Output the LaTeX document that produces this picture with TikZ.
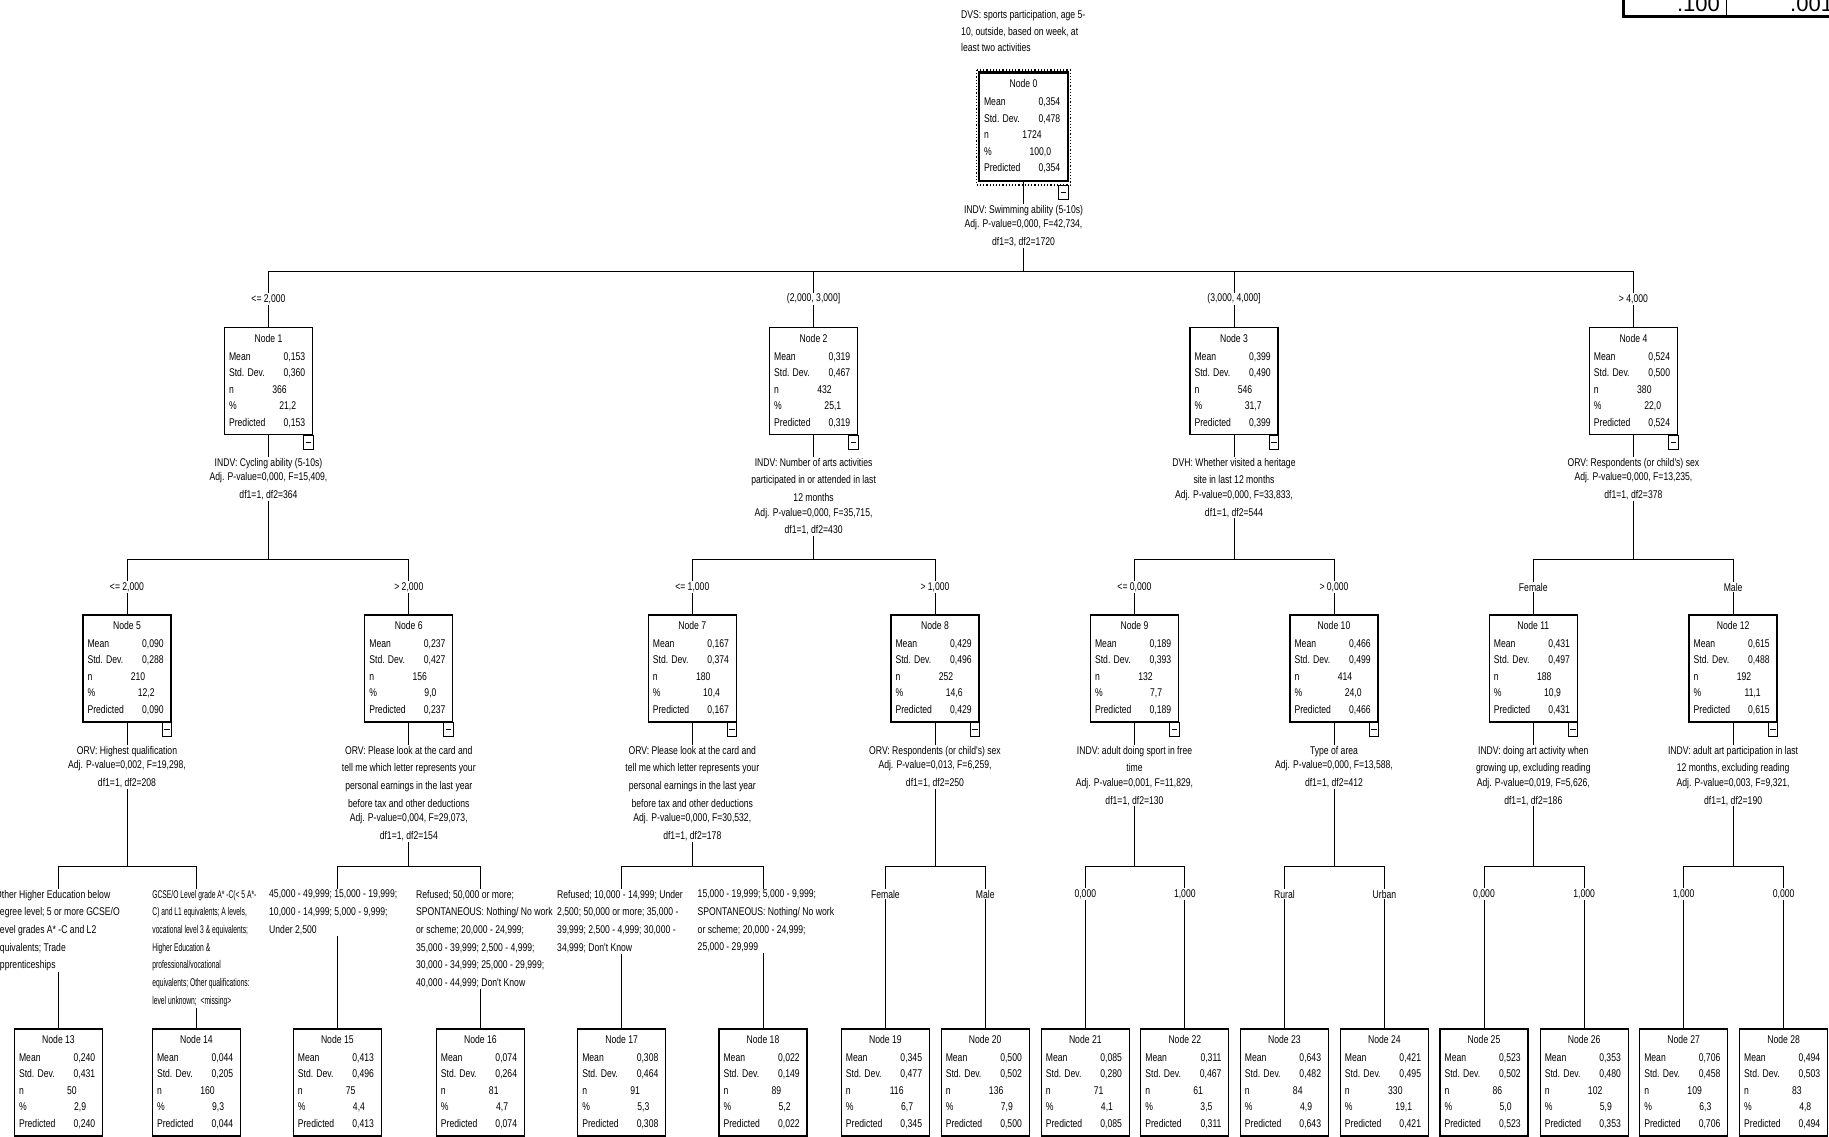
\documentclass[tikz,border=0pt]{standalone}
\usepackage{fontspec}
\newfontfamily\tf[FakeStretch=0.77]{Liberation Sans}
\newfontfamily\tfn[FakeStretch=0.6]{Liberation Sans}
\newfontfamily\af{Liberation Sans}
\usetikzlibrary{calc}
\tikzset{
  tx/.style={inner sep=0pt, font=\tf\fontsize{11.2}{16.5}\selectfont},
  nbox/.style={draw, line width=1.3pt, minimum width=88pt, minimum height=107pt, inner sep=0pt, anchor=north},
  conn/.style={line width=1pt},
  blab/.style={fill=white, inner sep=1pt, font=\tf\fontsize{11.2}{17.7}\selectfont},
  slab/.style={fill=white, inner sep=1pt, align=center, anchor=north, font=\tf\fontsize{11.2}{17.7}\selectfont},
  llab/.style={fill=white, inner sep=1pt, align=left, anchor=north west, font=\tf\fontsize{11.2}{17.7}\selectfont},
  cbx/.style={draw, line width=1pt},
}
\newcommand\tnode[8]{%
  \node[nbox] (#1) at (#2,#3) {};
  \node[tx, anchor=base] (#1t) at ($(#1.north)+(0,15)$) {Node #4};
  \node[tx, anchor=base west] (#1a) at ($(#1.north west)+(5,33)$) {Mean};
  \node[tx, anchor=base east] (#1b) at ($(#1.north west)+(81.5,33)$) {#5};
  \node[tx, anchor=base west] (#1c) at ($(#1.north west)+(5,49.5)$) {Std. Dev.};
  \node[tx, anchor=base east] (#1d) at ($(#1.north west)+(81.5,49.5)$) {#6};
  \node[tx, anchor=base west] (#1e) at ($(#1.north west)+(5,66)$) {n};
  \node[tx, anchor=base east] (#1f) at ($(#1.north west)+(63,66)$) {#7};
  \node[tx, anchor=base west] (#1g) at ($(#1.north west)+(5,82.5)$) {\%};
  \node[tx, anchor=base east] (#1h) at ($(#1.north west)+(72.5,82.5)$) {#8};
  \node[tx, anchor=base west] (#1i) at ($(#1.north west)+(5,99)$) {Predicted};
  \node[tx, anchor=base east] (#1j) at ($(#1.north west)+(81.5,99)$) {#5};
}
\newcommand\collapse[2]{%
  \draw[cbx] ($(#1.south east)+(0,#2)$) rectangle ++(-9.5,14);
  \draw[line width=1pt] ($(#1.south east)+(-7.5,#2+7)$) -- ++(5.5,0);
}
\newcommand\tedge[3]{\draw[conn] (#1.south) -- (#1.south |- #3) -| (#2.north);}
\begin{document}
\begin{tikzpicture}[x=1pt,y=-1pt]
\fill[white] (0,0) rectangle (1829,1136);
\useasboundingbox (0,0) rectangle (1829,1136);
\coordinate (yA) at (0,271);
\coordinate (yB) at (0,559);
\coordinate (yC) at (0,866);
\coordinate (lA) at (0,299);
\coordinate (lB) at (0,587);
\coordinate (lC) at (0,894);
\coordinate (sA) at (0,203.8);
\coordinate (sB) at (0,456.8);
\coordinate (sC) at (0,744.8);
\coordinate (sD) at (0,888.8);

% table fragment top right
\draw[line width=1.3pt] (1726.7,0) -- (1726.7,15);
\draw[line width=3pt] (1623.3,0) -- (1623.3,16.3) -- (1829,16.3);
\node[anchor=base east, inner sep=0pt, font=\af\fontsize{22}{22}\selectfont] (tv1) at (1720,11.7) {.100};
\node[anchor=base west, inner sep=0pt, font=\af\fontsize{22}{22}\selectfont] (tv2) at (1790,11.7) {.001};

% title
\node[tx, align=left, anchor=north west, inner sep=0pt] (dvs) at (961,10.5) {DVS:\ sports participation, age 5-\\10, outside, based on week, at\\least two activities};

% nodes
\tnode{n0}{1023.5}{72.7}{0}{0,354}{0,478}{1724}{100,0}
\tnode{n1}{268.5}{327}{1}{0,153}{0,360}{366}{21,2}
\tnode{n2}{813.6}{327}{2}{0,319}{0,467}{432}{25,1}
\tnode{n3}{1234}{327}{3}{0,399}{0,490}{546}{31,7}
\tnode{n4}{1633.4}{327}{4}{0,524}{0,500}{380}{22,0}
\tnode{n5}{127}{614.3}{5}{0,090}{0,288}{210}{12,2}
\tnode{n6}{408.8}{614.3}{6}{0,237}{0,427}{156}{9,0}
\tnode{n7}{692.3}{614.3}{7}{0,167}{0,374}{180}{10,4}
\tnode{n8}{935}{614.3}{8}{0,429}{0,496}{252}{14,6}
\tnode{n9}{1134.5}{614.3}{9}{0,189}{0,393}{132}{7,7}
\tnode{n10}{1334}{614.3}{10}{0,466}{0,499}{414}{24,0}
\tnode{n11}{1533.3}{614.3}{11}{0,431}{0,497}{188}{10,9}
\tnode{n12}{1733.1}{614.3}{12}{0,615}{0,488}{192}{11,1}
\tnode{n13}{58.5}{1028.3}{13}{0,240}{0,431}{50}{2,9}
\tnode{n14}{196.5}{1028.3}{14}{0,044}{0,205}{160}{9,3}
\tnode{n15}{337.3}{1028.3}{15}{0,413}{0,496}{75}{4,4}
\tnode{n16}{480.4}{1028.3}{16}{0,074}{0,264}{81}{4,7}
\tnode{n17}{621.7}{1028.3}{17}{0,308}{0,464}{91}{5,3}
\tnode{n18}{763}{1028.3}{18}{0,022}{0,149}{89}{5,2}
\tnode{n19}{885.4}{1028.3}{19}{0,345}{0,477}{116}{6,7}
\tnode{n20}{985.2}{1028.3}{20}{0,500}{0,502}{136}{7,9}
\tnode{n21}{1085.3}{1028.3}{21}{0,085}{0,280}{71}{4,1}
\tnode{n22}{1184.8}{1028.3}{22}{0,311}{0,467}{61}{3,5}
\tnode{n23}{1284.4}{1028.3}{23}{0,643}{0,482}{84}{4,9}
\tnode{n24}{1384.4}{1028.3}{24}{0,421}{0,495}{330}{19,1}
\tnode{n25}{1484}{1028.3}{25}{0,523}{0,502}{86}{5,0}
\tnode{n26}{1584.2}{1028.3}{26}{0,353}{0,480}{102}{5,9}
\tnode{n27}{1683.7}{1028.3}{27}{0,706}{0,458}{109}{6,3}
\tnode{n28}{1783.6}{1028.3}{28}{0,494}{0,503}{83}{4,8}

% root emphasis
\draw[line width=2.6pt] (n0.north west) rectangle (n0.south east);
\draw[line width=1.2pt, dotted] ($(n0.north west)+(-2.2,-2.7)$) rectangle ($(n0.south east)+(2.2,4)$);

% collapse boxes
\collapse{n0}{4}
\collapse{n1}{0}\collapse{n2}{0}\collapse{n3}{0}\collapse{n4}{0}
\collapse{n5}{0}\collapse{n6}{0}\collapse{n7}{0}\collapse{n8}{0}
\collapse{n9}{0}\collapse{n10}{0}\collapse{n11}{0}\collapse{n12}{0}

% connectors
\tedge{n0}{n1}{yA}\tedge{n0}{n2}{yA}\tedge{n0}{n3}{yA}\tedge{n0}{n4}{yA}
\tedge{n1}{n5}{yB}\tedge{n1}{n6}{yB}
\tedge{n2}{n7}{yB}\tedge{n2}{n8}{yB}
\tedge{n3}{n9}{yB}\tedge{n3}{n10}{yB}
\tedge{n4}{n11}{yB}\tedge{n4}{n12}{yB}
\tedge{n5}{n13}{yC}\tedge{n5}{n14}{yC}
\tedge{n6}{n15}{yC}\tedge{n6}{n16}{yC}
\tedge{n7}{n17}{yC}\tedge{n7}{n18}{yC}
\tedge{n8}{n19}{yC}\tedge{n8}{n20}{yC}
\tedge{n9}{n21}{yC}\tedge{n9}{n22}{yC}
\tedge{n10}{n23}{yC}\tedge{n10}{n24}{yC}
\tedge{n11}{n25}{yC}\tedge{n11}{n26}{yC}
\tedge{n12}{n27}{yC}\tedge{n12}{n28}{yC}

% split labels
\node[slab] (s0) at (n0.south |- sA) {INDV: Swimming ability (5-10s)\\[-3.2pt]Adj. P-value=0,000, F=42,734,\\df1=3, df2=1720};
\node[slab] (s1) at (n1.south |- sB) {INDV: Cycling ability (5-10s)\\[-3.2pt]Adj. P-value=0,000, F=15,409,\\df1=1, df2=364};
\node[slab] (s2) at (n2.south |- sB) {INDV: Number of arts activities\\participated in or attended in last\\12 months\\[-3.2pt]Adj. P-value=0,000, F=35,715,\\df1=1, df2=430};
\node[slab] (s3) at (n3.south |- sB) {DVH: Whether visited a heritage\\site in last 12 months\\[-3.2pt]Adj. P-value=0,000, F=33,833,\\df1=1, df2=544};
\node[slab] (s4) at (n4.south |- sB) {ORV: Respondents (or child's) sex\\[-3.2pt]Adj. P-value=0,000, F=13,235,\\df1=1, df2=378};
\node[slab] (s5) at (n5.south |- sC) {ORV: Highest qualification\\[-3.2pt]Adj. P-value=0,002, F=19,298,\\df1=1, df2=208};
\node[slab] (s6) at (n6.south |- sC) {ORV: Please look at the card and\\tell me which letter represents your\\personal earnings in the last year\\before tax and other deductions\\[-3.2pt]Adj. P-value=0,004, F=29,073,\\df1=1, df2=154};
\node[slab] (s7) at (n7.south |- sC) {ORV: Please look at the card and\\tell me which letter represents your\\personal earnings in the last year\\before tax and other deductions\\[-3.2pt]Adj. P-value=0,000, F=30,532,\\df1=1, df2=178};
\node[slab] (s8) at (n8.south |- sC) {ORV: Respondents (or child's) sex\\[-3.2pt]Adj. P-value=0,013, F=6,259,\\df1=1, df2=250};
\node[slab] (s9) at (n9.south |- sC) {INDV: adult doing sport in free\\time\\[-3.2pt]Adj. P-value=0,001, F=11,829,\\df1=1, df2=130};
\node[slab] (s10) at (n10.south |- sC) {Type of area\\[-3.2pt]Adj. P-value=0,000, F=13,588,\\df1=1, df2=412};
\node[slab] (s11) at (n11.south |- sC) {INDV: doing art activity when\\growing up, excluding reading\\[-3.2pt]Adj. P-value=0,019, F=5,626,\\df1=1, df2=186};
\node[slab] (s12) at (n12.south |- sC) {INDV: adult art participation in last\\12 months, excluding reading\\[-3.2pt]Adj. P-value=0,003, F=9,321,\\df1=1, df2=190};

% branch labels
\node[blab] (b1) at (n1.north |- lA) {<= 2,000};
\node[blab] (b2) at (n2.north |- lA) {(2,000, 3,000]};
\node[blab] (b3) at (n3.north |- lA) {(3,000, 4,000]};
\node[blab] (b4) at (n4.north |- lA) {> 4,000};
\node[blab] (b5) at (n5.north |- lB) {<= 2,000};
\node[blab] (b6) at (n6.north |- lB) {> 2,000};
\node[blab] (b7) at (n7.north |- lB) {<= 1,000};
\node[blab] (b8) at (n8.north |- lB) {> 1,000};
\node[blab] (b9) at (n9.north |- lB) {<= 0,000};
\node[blab] (b10) at (n10.north |- lB) {> 0,000};
\node[blab] (b11) at (n11.north |- lB) {Female};
\node[blab] (b12) at (n12.north |- lB) {Male};
\node[llab] (b13) at (-6,888.8) {Other Higher Education below\\degree level; 5 or more GCSE/O\\Level grades A* -C and L2\\equivalents; Trade\\apprenticeships};
\node[llab, font=\tfn\fontsize{11.2}{17.7}\selectfont] (b14) at (151.2,888.8) {GCSE/O Level grade A* -C(< 5 A*-\\C) and L1 equivalents; A levels,\\vocational level 3 \& equivalents;\\Higher Education \&\\professional/vocational\\equivalents; Other qualifications:\\level unknown;~ <missing>};
\node[llab] (b15) at (268,888.8) {45,000 - 49,999; 15,000 - 19,999;\\10,000 - 14,999; 5,000 - 9,999;\\Under 2,500};
\node[llab] (b16) at (415,888.8) {Refused; 50,000 or more;\\SPONTANEOUS: Nothing/ No work\\or scheme; 20,000 - 24,999;\\35,000 - 39,999; 2,500 - 4,999;\\30,000 - 34,999; 25,000 - 29,999;\\40,000 - 44,999; Don't Know};
\node[llab] (b17) at (556,888.8) {Refused; 10,000 - 14,999; Under\\2,500; 50,000 or more; 35,000 -\\39,999; 2,500 - 4,999; 30,000 -\\34,999; Don't Know};
\node[llab] (b18) at (696.5,888.8) {15,000 - 19,999; 5,000 - 9,999;\\SPONTANEOUS: Nothing/ No work\\or scheme; 20,000 - 24,999;\\25,000 - 29,999};
\node[blab] (b19) at (n19.north |- lC) {Female};
\node[blab] (b20) at (n20.north |- lC) {Male};
\node[blab] (b21) at (n21.north |- lC) {0,000};
\node[blab] (b22) at (n22.north |- lC) {1,000};
\node[blab] (b23) at (n23.north |- lC) {Rural};
\node[blab] (b24) at (n24.north |- lC) {Urban};
\node[blab] (b25) at (n25.north |- lC) {0,000};
\node[blab] (b26) at (n26.north |- lC) {1,000};
\node[blab] (b27) at (n27.north |- lC) {1,000};
\node[blab] (b28) at (n28.north |- lC) {0,000};
\end{tikzpicture}
\end{document}
